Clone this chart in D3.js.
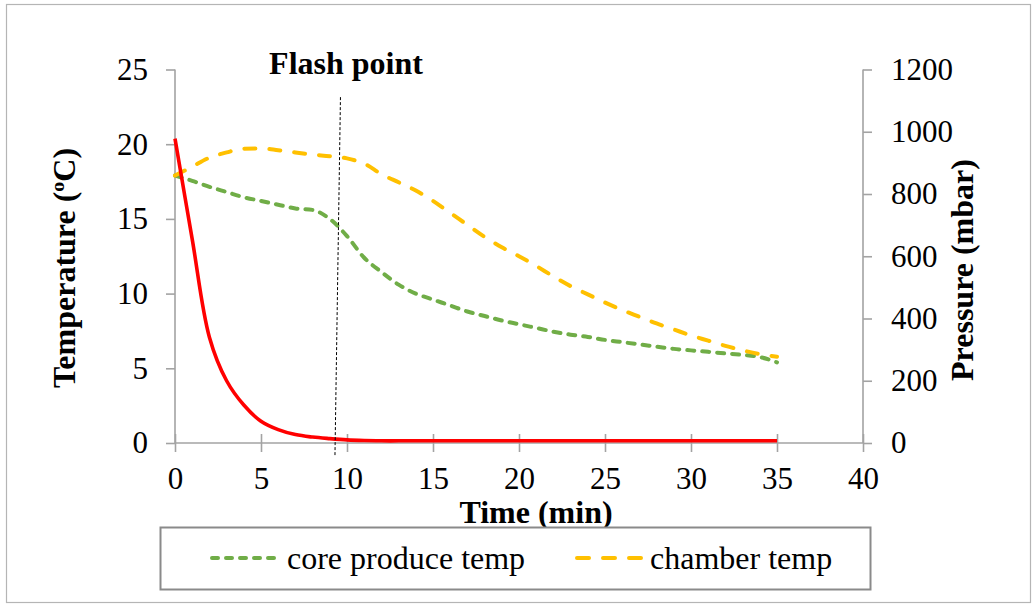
<!DOCTYPE html>
<html>
<head>
<meta charset="utf-8">
<script src="https://cdn.jsdelivr.net/npm/d3@7"></script>
<style>
  html, body { margin: 0; padding: 0; background: #fff; }
  svg { display: block; font-family: "Liberation Serif", "Times New Roman", serif; }
</style>
</head>
<body>
<svg id="chart" width="1033" height="604"></svg>
<script>
// Time in minutes
const minutes = d3.range(0, 36);

// Core produce temperature (°C)
const coreTemp = [17.9, 17.55, 17.15, 16.8, 16.45, 16.2, 15.95, 15.7, 15.6, 15.0, 13.85, 12.4,
  11.45, 10.6, 10.0, 9.6, 9.2, 8.8, 8.5, 8.2, 7.95, 7.7, 7.45, 7.25, 7.1, 6.9, 6.75, 6.6,
  6.45, 6.3, 6.2, 6.1, 6.0, 5.9, 5.75, 5.4];

// Chamber temperature (°C)
const chamberTemp = [17.9, 18.5, 19.1, 19.45, 19.7, 19.72, 19.6, 19.45, 19.3, 19.2, 19.05, 18.7,
  18.0, 17.45, 16.9, 16.2, 15.4, 14.6, 13.8, 13.1, 12.5, 11.85, 11.15, 10.5, 9.95, 9.4, 8.9,
  8.45, 8.0, 7.6, 7.2, 6.85, 6.5, 6.2, 5.95, 5.78];

// Chamber pressure (mbar)
const pressure = [978, 655, 340, 200, 122, 70, 43, 27, 19, 14, 10, 8, 7, 7, 7, 7, 7, 7, 7, 7,
  7, 7, 7, 7, 7, 7, 7, 7, 7, 7, 7, 7, 7, 7, 7, 7];

// Axis ticks
const timeTicks = [0, 5, 10, 15, 20, 25, 30, 35, 40];
const tempTicks = [0, 5, 10, 15, 20, 25];
const pressureTicks = [0, 200, 400, 600, 800, 1000, 1200];

// Flash point marker (time, temperature at both ends)
const flashLine = [{ t: 9.62, v: 23.15 }, { t: 9.3, v: -0.85 }];

const svg = d3.select("#chart");
const axisColor = "#a3a3a3";
const fontSize = 31;
const titleSize = 32;

const x = d3.scaleLinear().domain([0, 40]).range([175, 863]);
const yT = d3.scaleLinear().domain([0, 25]).range([443, 69.5]);
const yP = d3.scaleLinear().domain([0, 1200]).range([443, 69.5]);

// Outer chart frame
svg.append("rect")
  .attr("x", 6.5).attr("y", 4.5).attr("width", 1024).attr("height", 598)
  .attr("fill", "#fff").attr("stroke", "#b5b5b5").attr("stroke-width", 1.2);

// Left axis
const leftAxis = svg.append("g").attr("transform", "translate(175,0)")
  .call(d3.axisLeft(yT).tickValues(tempTicks).tickSize(9).tickPadding(18).tickFormat(d3.format("d")));
// Right axis
const rightAxis = svg.append("g").attr("transform", "translate(863,0)")
  .call(d3.axisRight(yP).tickValues(pressureTicks).tickSize(9).tickPadding(19).tickFormat(d3.format("d")));
// Bottom axis with crossing tick marks
const bottomAxis = svg.append("g").attr("transform", "translate(0,443)")
  .call(d3.axisBottom(x).tickValues(timeTicks).tickSize(9).tickPadding(15).tickFormat(d3.format("d")));
bottomAxis.selectAll(".tick line").attr("y1", -9);

[leftAxis, rightAxis, bottomAxis].forEach(g => {
  g.select(".domain").attr("stroke", axisColor).attr("stroke-width", 1.6);
  g.selectAll(".tick line").attr("stroke", axisColor).attr("stroke-width", 1.6);
  g.selectAll(".tick text").attr("font-size", fontSize).attr("fill", "#000")
    .attr("font-family", "Liberation Serif, Times New Roman, serif");
});
leftAxis.select(".domain").attr("d", "M0,69.5V443");
rightAxis.select(".domain").attr("d", "M0,69.5V443");
bottomAxis.select(".domain").attr("d", "M175,0H863");
bottomAxis.selectAll(".tick text").attr("dy", "0.71em");

// Axis titles
svg.append("text")
  .attr("transform", "translate(75,268) rotate(-90)")
  .attr("text-anchor", "middle").attr("font-size", titleSize).attr("font-weight", "bold")
  .call(t => {
    t.append("tspan").text("Temperature (");
    t.append("tspan").attr("font-size", titleSize * 0.62).attr("dy", -11).text("o");
    t.append("tspan").attr("dy", 11).text("C)");
  });

svg.append("text")
  .attr("transform", "translate(973,270) rotate(-90)")
  .attr("text-anchor", "middle").attr("font-size", titleSize).attr("font-weight", "bold")
  .text("Pressure (mbar)");

svg.append("text")
  .attr("x", 536).attr("y", 523)
  .attr("text-anchor", "middle").attr("font-size", titleSize).attr("font-weight", "bold")
  .text("Time (min)");

// Series lines
const lineT = vals => d3.line()
  .x((d, i) => x(minutes[i]))
  .y(d => yT(d))
  .curve(d3.curveMonotoneX)(vals);

svg.append("path")
  .attr("d", lineT(coreTemp))
  .attr("fill", "none").attr("stroke", "#70ad47").attr("stroke-width", 4)
  .attr("stroke-linecap", "round").attr("stroke-dasharray", "7,8");

svg.append("path")
  .attr("d", lineT(chamberTemp))
  .attr("fill", "none").attr("stroke", "#ffc000").attr("stroke-width", 4)
  .attr("stroke-linecap", "round").attr("stroke-dasharray", "11,14");

svg.append("path")
  .attr("d", d3.line()
    .x((d, i) => x(minutes[i]))
    .y(d => yP(d))
    .curve(d3.curveCatmullRom.alpha(0.5))(pressure))
  .attr("fill", "none").attr("stroke", "#ff0000").attr("stroke-width", 3.6)
  .attr("stroke-linejoin", "round");

// Flash point marker
svg.append("line")
  .attr("x1", x(flashLine[0].t)).attr("y1", yT(flashLine[0].v))
  .attr("x2", x(flashLine[1].t)).attr("y2", yT(flashLine[1].v))
  .attr("stroke", "#000").attr("stroke-width", 1).attr("stroke-dasharray", "3,2");

svg.append("text")
  .attr("x", 346).attr("y", 74)
  .attr("text-anchor", "middle").attr("font-size", titleSize).attr("font-weight", "bold")
  .text("Flash point");

// Legend
const legend = svg.append("g");
legend.append("rect")
  .attr("x", 160.5).attr("y", 527.5).attr("width", 710).attr("height", 62)
  .attr("fill", "#fff").attr("stroke", "#8a8a8a").attr("stroke-width", 2);

const legendItems = [
  { label: "core produce temp", color: "#70ad47", dash: "6,8", x0: 212, x1: 280, tx: 287 },
  { label: "chamber temp", color: "#ffc000", dash: "12,14", x0: 577, x1: 643, tx: 650 }
];
legendItems.forEach(it => {
  legend.append("line")
    .attr("x1", it.x0).attr("x2", it.x1).attr("y1", 558).attr("y2", 558)
    .attr("stroke", it.color).attr("stroke-width", 4)
    .attr("stroke-linecap", "round").attr("stroke-dasharray", it.dash);
  legend.append("text")
    .attr("x", it.tx).attr("y", 569)
    .attr("font-size", 32).text(it.label);
});
</script>
</body>
</html>
